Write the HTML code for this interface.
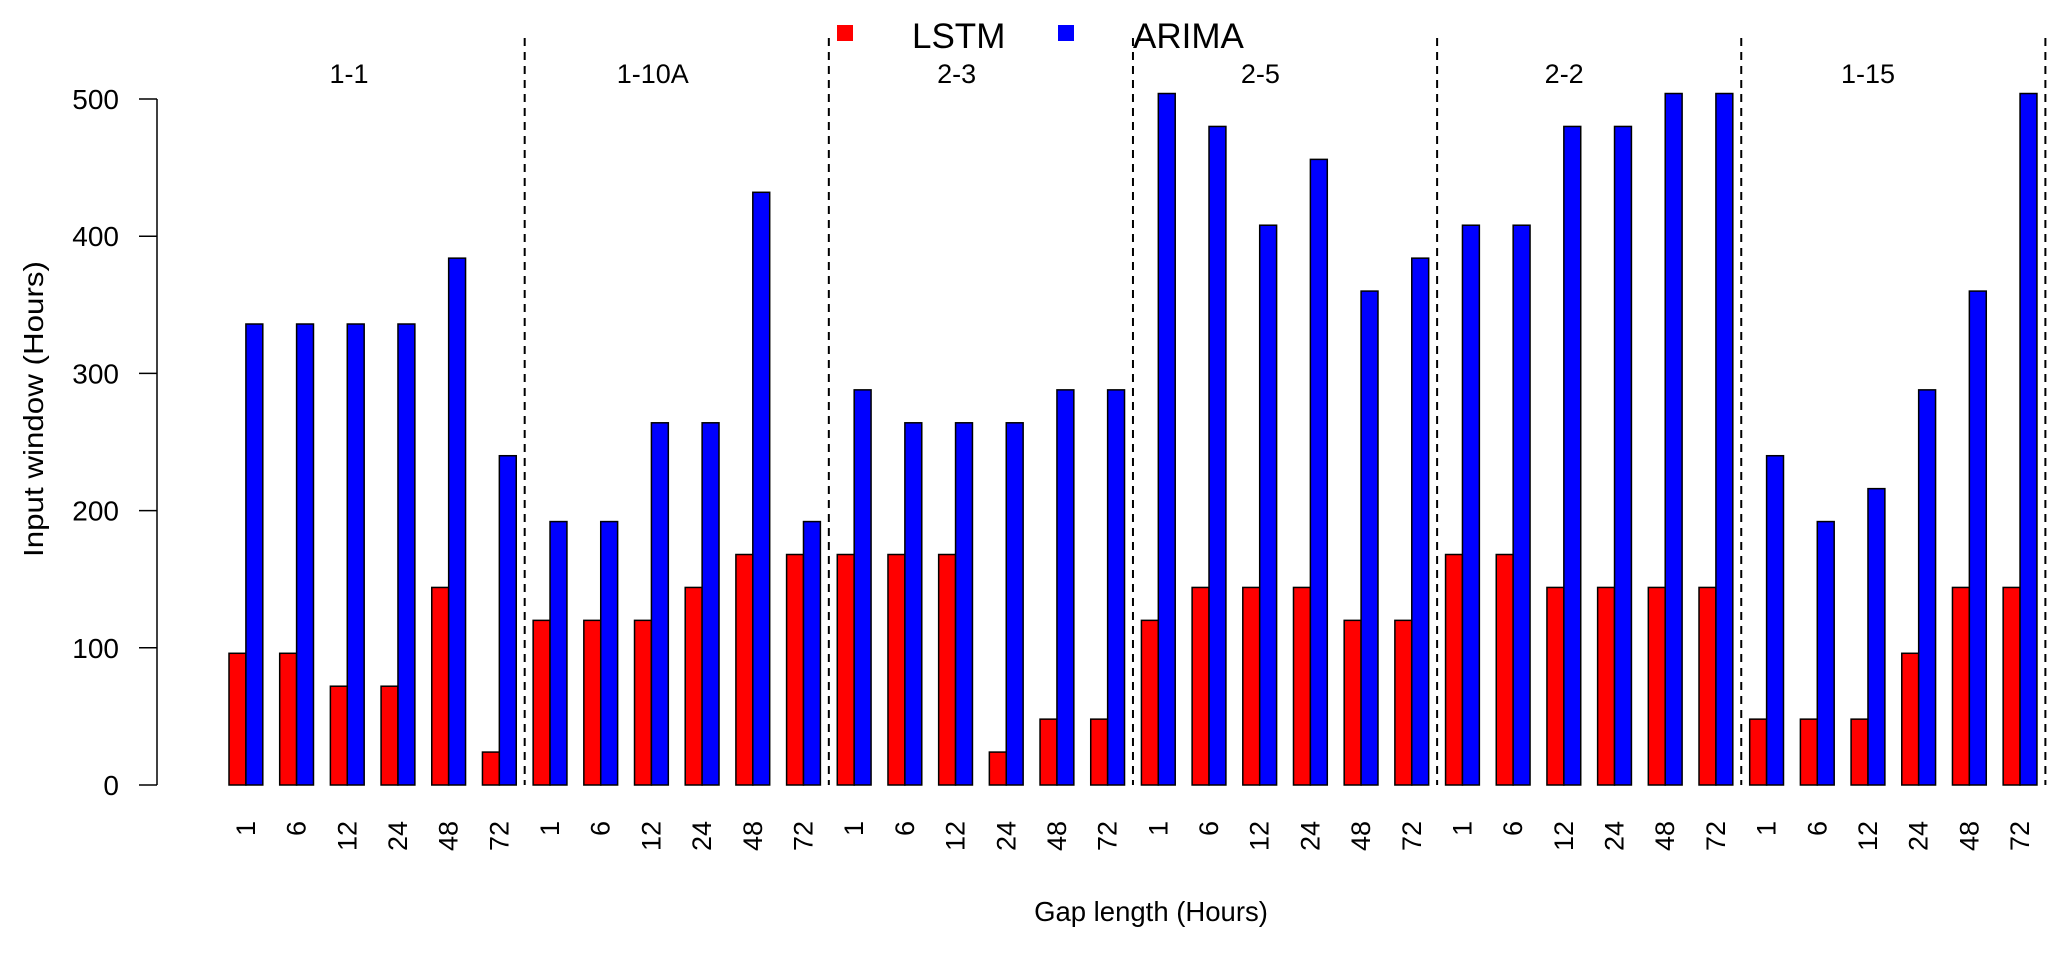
<!DOCTYPE html>
<html><head><meta charset="utf-8"><style>
html,body{margin:0;padding:0;background:#fff;}
svg{display:block;font-family:"Liberation Sans",Arial,sans-serif;}
</style></head><body>
<svg id="chart" width="2067" height="954" viewBox="0 0 2067 954" xmlns="http://www.w3.org/2000/svg"></svg>
<script>
const sites = ["1-1","1-10A","2-3","2-5","2-2","1-15"];
const gaps = ["1","6","12","24","48","72"];
const lstm = [96,96,72,72,144,24, 120,120,120,144,168,168, 168,168,168,24,48,48, 120,144,144,144,120,120, 168,168,144,144,144,144, 48,48,48,96,144,144];
const arima = [336,336,336,336,384,240, 192,192,264,264,432,192, 288,264,264,264,288,288, 504,480,408,456,360,384, 408,408,480,480,504,504, 240,192,216,288,360,504];
const yTicks = [0,100,200,300,400,500];

const svg = document.getElementById('chart');
const NS = "http://www.w3.org/2000/svg";
function mk(tag, attrs, parent){const e=document.createElementNS(NS,tag);for(const k in attrs)e.setAttribute(k,attrs[k]);(parent||svg).appendChild(e);return e;}

const Y0=785, Y500=99;
function y(v){return Y0-(v/500)*(Y0-Y500);}
const firstLeft=229, period=50.69, bw=16.9;
function xGroup(i){return firstLeft+i*period;}

// y axis
const yAxis=mk('g',{});


mk('line',{x1:157,y1:y(0),x2:157,y2:y(500),stroke:'#000','stroke-width':1.5},yAxis);
yTicks.forEach(t=>{
  mk('line',{x1:139,y1:y(t),x2:157,y2:y(t),stroke:'#000','stroke-width':1.5},yAxis);
  const tx=mk('text',{x:119,y:y(t)+10,'text-anchor':'end','font-size':28,fill:'#000'},yAxis);
  tx.textContent=t;
  
  
});
const yt=mk('text',{x:0,y:0,transform:'translate(43,409) rotate(-90)','text-anchor':'middle','font-size':28,textLength:296,lengthAdjust:'spacingAndGlyphs',fill:'#000'});
yt.textContent='Input window (Hours)';



// bars
const bars=mk('g',{});


lstm.forEach((v,i)=>{
  const x=xGroup(i);
  const r=mk('rect',{x:x,y:y(v),width:bw,height:y(0)-y(v),fill:'#ff0000',stroke:'#000','stroke-width':1.5},bars);
  
  
  const b=mk('rect',{x:x+bw,y:y(arima[i]),width:bw,height:y(0)-y(arima[i]),fill:'#0000ff',stroke:'#000','stroke-width':1.5},bars);
  
  
  const t=mk('text',{x:0,y:0,transform:`translate(${x+bw+9},821) rotate(-90)`,'text-anchor':'end','font-size':27,fill:'#000'});
  t.textContent=gaps[i%gaps.length];
  
  
});

// separators and site labels
sites.forEach((s,k)=>{
  const xs=xGroup((k+1)*6)-bw/2;
  const l=mk('line',{x1:xs,y1:38,x2:xs,y2:y(0),stroke:'#000','stroke-width':2,'stroke-dasharray':'8,6'});
  
  
  const t=mk('text',{x:349+k*303.8,y:83,'text-anchor':'middle','font-size':27,fill:'#000'});
  t.textContent=s;
  
  
});

// x title
const xt=mk('text',{x:1151,y:921,'text-anchor':'middle','font-size':27.5,fill:'#000'});
xt.textContent='Gap length (Hours)';



// legend
const lg=mk('g',{});


const e1=mk('g',{},lg);


mk('rect',{x:837,y:25,width:16,height:16,fill:'#ff0000'},e1);
mk('text',{x:912,y:48,'font-size':35,fill:'#000'},e1).textContent='LSTM';
const e2=mk('g',{},lg);


mk('rect',{x:1058,y:25,width:16,height:16,fill:'#0000ff'},e2);
mk('text',{x:1133,y:48,'font-size':35,fill:'#000'},e2).textContent='ARIMA';
</script>
</body></html>
